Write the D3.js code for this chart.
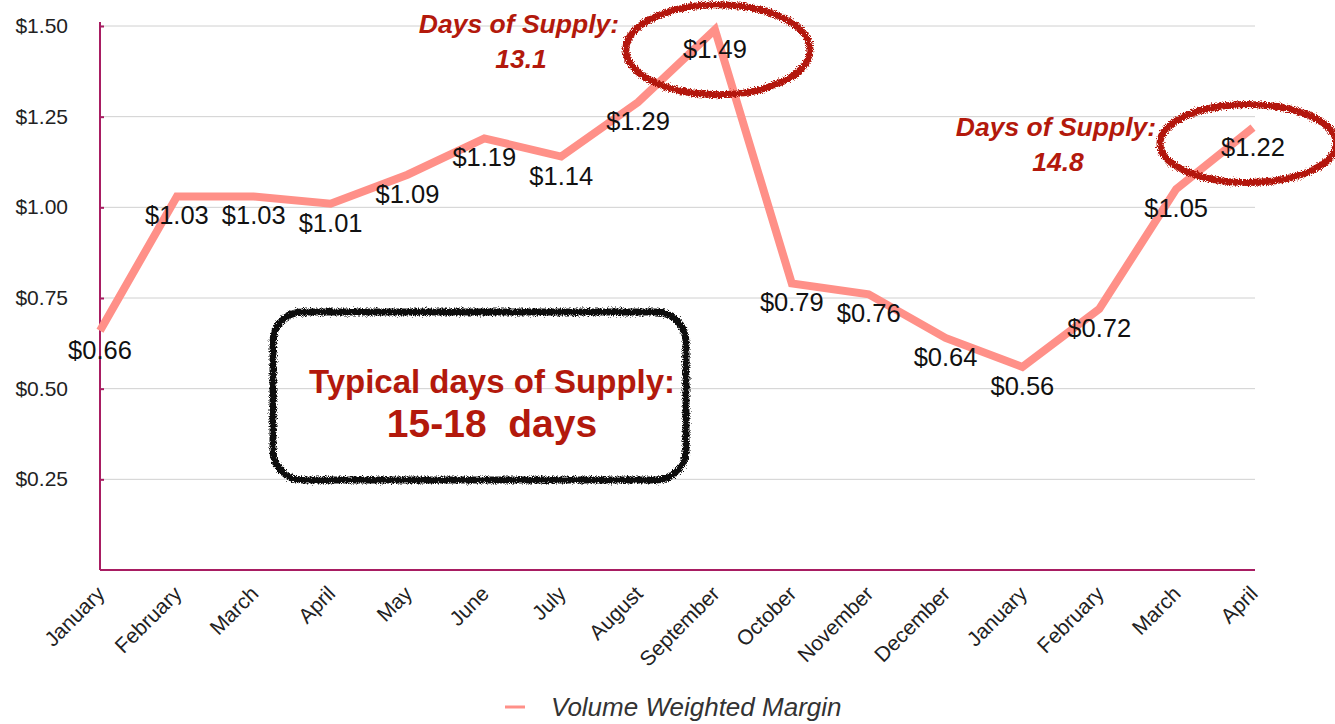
<!DOCTYPE html>
<html>
<head>
<meta charset="utf-8">
<script src="https://cdn.jsdelivr.net/npm/d3@7"></script>
<style>
  body { margin: 0; background: #fff; }
  svg { font-family: "Liberation Sans", Arial, Helvetica, sans-serif; }
</style>
</head>
<body>
<svg id="chart" width="1335" height="724"></svg>
<script>
const months = ['January', 'February', 'March', 'April', 'May', 'June', 'July', 'August',
  'September', 'October', 'November', 'December', 'January', 'February', 'March', 'April'];
const margin = [0.66, 1.03, 1.03, 1.01, 1.09, 1.19, 1.14, 1.29, 1.49, 0.79, 0.76, 0.64, 0.56, 0.72, 1.05, 1.22];
const yTicks = [0.25, 0.5, 0.75, 1.0, 1.25, 1.5];
const seriesName = 'Volume Weighted Margin';

const AXIS = '#a81d62';
const LINE = '#ff9088';
const RED = '#b3190c';

const svg = d3.select('#chart');
const plotLeft = 100, plotRight = 1255, plotTop = 26, plotBottom = 570;

const x = d3.scalePoint()
  .domain(d3.range(months.length))
  .range([plotLeft, plotRight - 2]);
const y = d3.scaleLinear()
  .domain([0, 1.5])
  .range([plotBottom, plotTop]);

// rough "marker pen" look for the hand-drawn annotations
const defs = svg.append('defs');
const rough = defs.append('filter').attr('id', 'rough')
  .attr('x', '-10%').attr('y', '-10%').attr('width', '120%').attr('height', '120%');
rough.append('feTurbulence').attr('type', 'fractalNoise').attr('baseFrequency', 1.2)
  .attr('numOctaves', 2).attr('seed', 3).attr('result', 'noise');
rough.append('feDisplacementMap').attr('in', 'SourceGraphic').attr('in2', 'noise')
  .attr('scale', 6).attr('xChannelSelector', 'R').attr('yChannelSelector', 'G');

// gridlines
svg.append('g')
  .selectAll('line')
  .data(yTicks)
  .join('line')
  .attr('x1', plotLeft).attr('x2', plotRight)
  .attr('y1', d => y(d)).attr('y2', d => y(d))
  .attr('stroke', '#d0d0d0').attr('stroke-width', 1);

// y axis
const yAxis = svg.append('g')
  .attr('transform', `translate(${plotLeft},0)`)
  .call(d3.axisRight(y).tickValues(yTicks).tickSize(4).tickFormat(''));
yAxis.select('.domain').remove();
yAxis.selectAll('line').attr('stroke', AXIS).attr('stroke-width', 2);

svg.append('g')
  .selectAll('text')
  .data(yTicks)
  .join('text')
  .attr('x', 68)
  .attr('y', d => y(d) + 7)
  .attr('text-anchor', 'end')
  .attr('font-size', 21)
  .attr('fill', '#222')
  .text(d => '$' + d.toFixed(2));

svg.append('line')
  .attr('x1', plotLeft).attr('x2', plotLeft).attr('y1', plotTop - 4).attr('y2', plotBottom)
  .attr('stroke', AXIS).attr('stroke-width', 2);
svg.append('line')
  .attr('x1', plotLeft).attr('x2', plotRight).attr('y1', plotBottom).attr('y2', plotBottom)
  .attr('stroke', AXIS).attr('stroke-width', 2);

// x labels
svg.append('g')
  .selectAll('text')
  .data(months)
  .join('text')
  .attr('transform', (d, i) => `translate(${x(i) + 6},${plotBottom + 25}) rotate(-45)`)
  .attr('text-anchor', 'end')
  .attr('font-size', 21)
  .attr('fill', '#222')
  .text(d => d);

// annotation box
svg.append('rect')
  .attr('x', 273).attr('y', 312).attr('width', 413).attr('height', 168)
  .attr('rx', 30)
  .attr('fill', 'none').attr('stroke', '#111').attr('stroke-width', 7)
  .attr('filter', 'url(#rough)');

svg.append('text')
  .attr('x', 492).attr('y', 393)
  .attr('text-anchor', 'middle').attr('font-weight', 'bold').attr('font-size', 33)
  .attr('fill', RED)
  .text('Typical days of Supply:');
svg.append('text')
  .attr('x', 492).attr('y', 437)
  .attr('text-anchor', 'middle').attr('font-weight', 'bold').attr('font-size', 39)
  .attr('fill', RED).style('white-space', 'pre')
  .text('15-18  days');

// line
const line = d3.line()
  .x((d, i) => x(i))
  .y(d => y(d));

svg.append('path')
  .datum(margin)
  .attr('d', line)
  .attr('fill', 'none')
  .attr('stroke', LINE)
  .attr('stroke-width', 8);

// value labels
svg.append('g')
  .selectAll('text')
  .data(margin)
  .join('text')
  .attr('x', (d, i) => x(i))
  .attr('y', d => y(d) + 28)
  .attr('text-anchor', 'middle')
  .attr('font-size', 25.5)
  .attr('fill', '#111')
  .text(d => '$' + d.toFixed(2));

// circled highlights
const highlights = [
  { idx: 8, dx: 3, dy: 20, rx: 92, ry: 45, tx: 519, ty: 33, days: '13.1' },
  { idx: 15, dx: -5, dy: 16, rx: 88, ry: 39, tx: 1056, ty: 136, days: '14.8' }
];

highlights.forEach(h => {
  svg.append('ellipse')
    .attr('cx', x(h.idx) + h.dx)
    .attr('cy', y(margin[h.idx]) + h.dy)
    .attr('rx', h.rx).attr('ry', h.ry)
    .attr('fill', 'none').attr('stroke', RED).attr('stroke-width', 7)
    .attr('filter', 'url(#rough)');
  svg.append('text')
    .attr('x', h.tx).attr('y', h.ty)
    .attr('text-anchor', 'middle').attr('font-weight', 'bold').attr('font-style', 'italic')
    .attr('font-size', 26.5).attr('fill', RED)
    .text('Days of Supply:');
  svg.append('text')
    .attr('x', h.tx + 2).attr('y', h.ty + 35)
    .attr('text-anchor', 'middle').attr('font-weight', 'bold').attr('font-style', 'italic')
    .attr('font-size', 26.5).attr('fill', RED)
    .text(h.days);
});

// legend
svg.append('line')
  .attr('x1', 505).attr('x2', 525).attr('y1', 707).attr('y2', 707)
  .attr('stroke', LINE).attr('stroke-width', 3);
svg.append('text')
  .attr('x', 551).attr('y', 716)
  .attr('font-size', 26).attr('font-style', 'italic').attr('fill', '#333')
  .text(seriesName);
</script>
</body>
</html>
